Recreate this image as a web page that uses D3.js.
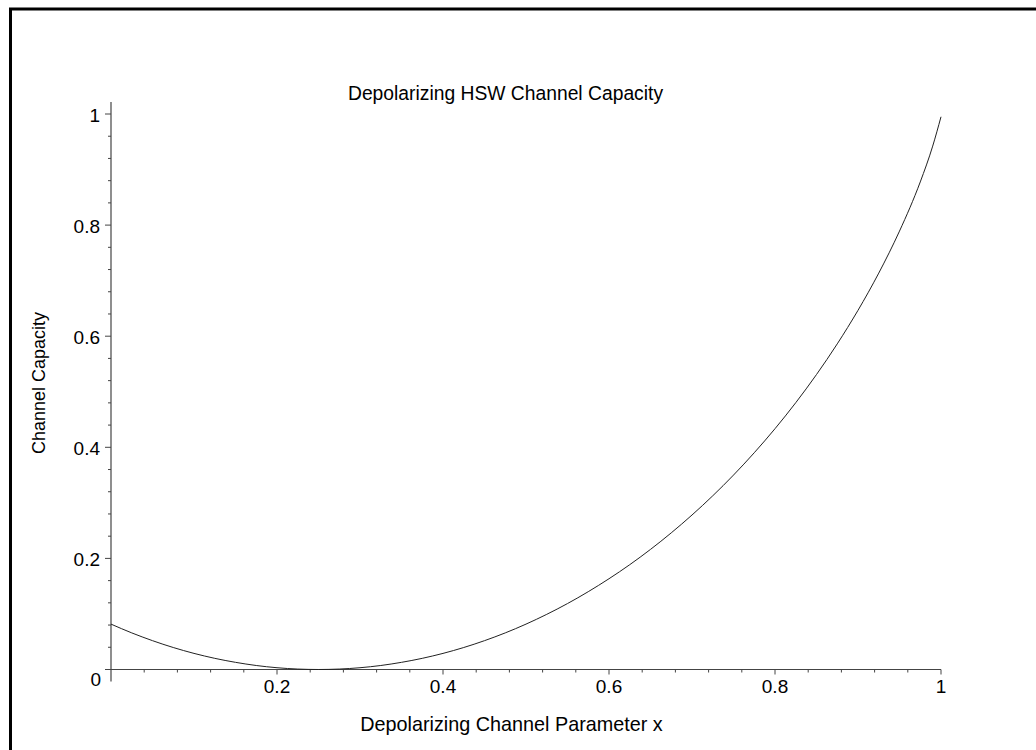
<!DOCTYPE html>
<html>
<head>
<meta charset="utf-8">
<script src="https://cdn.jsdelivr.net/npm/d3@7"></script>
<style>
  html, body { margin: 0; padding: 0; background: #fff; }
  svg { display: block; }
  text { font-family: "Liberation Sans", Arial, sans-serif; fill: #000; }
</style>
</head>
<body>
<svg id="chart" width="1036" height="750"></svg>
<script>
// Depolarizing channel parameter x and the HSW capacity at each x
const paramX = [0, 0.025, 0.05, 0.075, 0.1, 0.125, 0.15, 0.175, 0.2, 0.225, 0.25,
  0.275, 0.3, 0.325, 0.35, 0.375, 0.4, 0.425, 0.45, 0.475, 0.5,
  0.525, 0.55, 0.575, 0.6, 0.625, 0.65, 0.675, 0.7, 0.725, 0.75,
  0.775, 0.8, 0.825, 0.85, 0.875, 0.9, 0.925, 0.95, 0.975, 0.99, 1];
const capacity = [0.0817, 0.0659, 0.0519, 0.0396, 0.0290, 0.0201, 0.0129, 0.0072, 0.0032, 0.0008, 0,
  0.0008, 0.0032, 0.0072, 0.0129, 0.0201, 0.0290, 0.0396, 0.0519, 0.0659, 0.0817,
  0.0993, 0.1187, 0.1401, 0.1634, 0.1887, 0.2162, 0.2460, 0.2781, 0.3127, 0.3500,
  0.3902, 0.4335, 0.4803, 0.5310, 0.5862, 0.6466, 0.7136, 0.7892, 0.8777, 0.9422, 0.995];

const xMajorTicks = [0.2, 0.4, 0.6, 0.8, 1];
const yMajorTicks = [0.2, 0.4, 0.6, 0.8, 1];
const minorStep = 0.04;
const xTickLabels = ["0.2", "0.4", "0.6", "0.8", "1"];
const yTickLabels = ["0.2", "0.4", "0.6", "0.8", "1"];
const originLabel = "0";

const titleText = "Depolarizing HSW Channel Capacity";
const xTitle = "Depolarizing Channel Parameter x";
const yTitle = "Channel Capacity";

const svg = d3.select("#chart");

// frame around the plot window
svg.append("rect")
  .attr("x", 10.5).attr("y", 9)
  .attr("width", 1200).attr("height", 1000)
  .attr("fill", "none").attr("stroke", "#000").attr("stroke-width", 3);

const x = d3.scaleLinear().domain([0, 1]).range([111, 941]);
const y = d3.scaleLinear().domain([0, 1]).range([669.5, 114]);

const axisColor = "#444";
const minorTicks = d3.range(1, 25).map(i => +(i * minorStep).toFixed(2))
  .filter(v => !xMajorTicks.some(m => Math.abs(m - v) < 1e-9));

// axis lines
svg.append("line")
  .attr("x1", x(0) - 6).attr("x2", x(1))
  .attr("y1", y(0)).attr("y2", y(0))
  .attr("stroke", axisColor).attr("stroke-width", 1.2);
svg.append("line")
  .attr("x1", x(0)).attr("x2", x(0))
  .attr("y1", y(0) + 12).attr("y2", y(1) - 12)
  .attr("stroke", axisColor).attr("stroke-width", 1.2);

const gx = svg.append("g");
gx.selectAll("line.minor").data(minorTicks).join("line")
  .attr("x1", d => x(d)).attr("x2", d => x(d))
  .attr("y1", y(0)).attr("y2", y(0) + 3)
  .attr("stroke", axisColor).attr("stroke-width", 1);
gx.selectAll("line.major").data(xMajorTicks).join("line")
  .attr("x1", d => x(d)).attr("x2", d => x(d))
  .attr("y1", y(0)).attr("y2", y(0) + 5)
  .attr("stroke", axisColor).attr("stroke-width", 1);
gx.selectAll("text").data(xMajorTicks).join("text")
  .attr("x", d => x(d)).attr("y", y(0) + 23)
  .attr("text-anchor", "middle").attr("font-size", 19)
  .text((d, i) => xTickLabels[i]);

const gy = svg.append("g");
gy.selectAll("line.minor").data(minorTicks).join("line")
  .attr("x1", x(0) - 3).attr("x2", x(0))
  .attr("y1", d => y(d)).attr("y2", d => y(d))
  .attr("stroke", axisColor).attr("stroke-width", 1);
gy.selectAll("line.major").data(yMajorTicks).join("line")
  .attr("x1", x(0) - 6).attr("x2", x(0))
  .attr("y1", d => y(d)).attr("y2", d => y(d))
  .attr("stroke", axisColor).attr("stroke-width", 1);
gy.selectAll("text").data(yMajorTicks).join("text")
  .attr("x", x(0) - 11).attr("y", d => y(d) + 8)
  .attr("text-anchor", "end").attr("font-size", 19)
  .text((d, i) => yTickLabels[i]);

// shared origin label
svg.append("text")
  .attr("x", x(0) - 10).attr("y", y(0) + 16)
  .attr("text-anchor", "end").attr("font-size", 19)
  .text(originLabel);

// capacity curve
const line = d3.line()
  .x(d => x(d[0])).y(d => y(d[1]))
  .curve(d3.curveMonotoneX);
svg.append("path")
  .datum(paramX.map((v, i) => [v, capacity[i]]))
  .attr("d", line)
  .attr("fill", "none").attr("stroke", "#222").attr("stroke-width", 1);

// titles
svg.append("text")
  .attr("x", 505.5).attr("y", 99.5)
  .attr("text-anchor", "middle").attr("font-size", 19.3)
  .text(titleText);
svg.append("text")
  .attr("x", 511.5).attr("y", 731)
  .attr("text-anchor", "middle").attr("font-size", 19.8)
  .text(xTitle);
svg.append("text")
  .attr("transform", "translate(45,383) rotate(-90)")
  .attr("text-anchor", "middle").attr("font-size", 18)
  .text(yTitle);
</script>
</body>
</html>
